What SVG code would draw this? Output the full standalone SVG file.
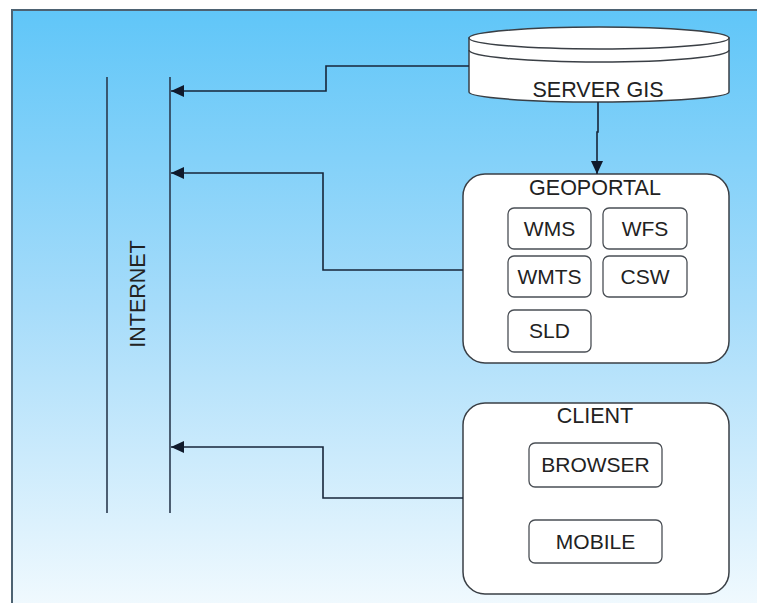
<svg xmlns="http://www.w3.org/2000/svg" width="757" height="603" viewBox="0 0 757 603">
  <defs>
    <linearGradient id="bg" x1="0" y1="0" x2="0" y2="1">
      <stop offset="0" stop-color="#60c6f8"/>
      <stop offset="0.5" stop-color="#a6dcfa"/>
      <stop offset="1" stop-color="#f0f9fe"/>
    </linearGradient>
    <marker id="arrow" markerWidth="14" markerHeight="12" refX="13" refY="6" orient="auto" markerUnits="userSpaceOnUse">
      <path d="M0,0 L13,6 L0,12 Z" fill="#101a2c"/>
    </marker>
    <style>
      .box { fill: #ffffff; stroke: #3a3f45; stroke-width: 1.5; }
      .inner { fill: #ffffff; stroke: #4a4f55; stroke-width: 1.3; }
      .lbl { font-family: "Liberation Sans", Arial, sans-serif; font-size: 21px; fill: #222222; text-anchor: middle; }
      .title { font-size: 21.5px; }
      .wire { fill: none; stroke: #17263a; stroke-width: 1.6; }
      .bus { stroke: #2a3a4e; stroke-width: 1.6; }
    </style>
  </defs>

  <!-- background panel -->
  <rect x="0" y="0" width="757" height="603" fill="#ffffff"/>
  <rect x="12" y="10" width="746" height="594" fill="url(#bg)"/>
  <path d="M12,604 V10 H757" fill="none" stroke="#4d6272" stroke-width="2"/>

  <!-- internet bus -->
  <g id="internet">
    <line class="bus" x1="107" y1="77" x2="107" y2="513"/>
    <line class="bus" x1="170" y1="77" x2="170" y2="513"/>
    <text class="lbl title" transform="translate(145,294) rotate(-90)">INTERNET</text>
  </g>

  <!-- GIS server (disk) -->
  <g id="server-gis">
    <path class="box" d="M469,38 V92 A130,10 0 0 0 729,92 V38 Z"/>
    <ellipse class="box" cx="599" cy="38" rx="130" ry="11"/>
    <path d="M469,50 A130,12 0 0 0 729,50" fill="none" stroke="#3a3f45" stroke-width="1.5"/>
    <text class="lbl title" x="598" y="97">SERVER GIS</text>
  </g>

  <!-- geoportal with services -->
  <g id="geoportal">
    <rect class="box" x="463" y="174" width="266" height="189" rx="22"/>
    <text class="lbl title" x="595" y="195">GEOPORTAL</text>
    <g id="wms"><rect class="inner" x="508" y="208" width="83" height="41" rx="6"/><text class="lbl" x="549.5" y="236">WMS</text></g>
    <g id="wfs"><rect class="inner" x="603" y="208" width="84" height="41" rx="6"/><text class="lbl" x="645" y="236">WFS</text></g>
    <g id="wmts"><rect class="inner" x="508" y="256" width="83" height="41" rx="6"/><text class="lbl" x="549.5" y="284">WMTS</text></g>
    <g id="csw"><rect class="inner" x="603" y="256" width="84" height="41" rx="6"/><text class="lbl" x="645" y="284">CSW</text></g>
    <g id="sld"><rect class="inner" x="508" y="310" width="83" height="42" rx="6"/><text class="lbl" x="549.5" y="338">SLD</text></g>
  </g>

  <!-- client -->
  <g id="client">
    <rect class="box" x="463" y="403" width="266" height="191" rx="22"/>
    <text class="lbl title" x="595" y="423">CLIENT</text>
    <g id="browser"><rect class="inner" x="529" y="443" width="133" height="44" rx="6"/><text class="lbl" x="595.5" y="472">BROWSER</text></g>
    <g id="mobile"><rect class="inner" x="529" y="520" width="133" height="43" rx="6"/><text class="lbl" x="595.5" y="549">MOBILE</text></g>
  </g>

  <!-- connectors -->
  <g id="connectors">
    <path class="wire" d="M469,66 H326 V91 H171" marker-end="url(#arrow)"/>
    <path class="wire" d="M463,270 H323 V173 H171" marker-end="url(#arrow)"/>
    <path class="wire" d="M463,498 H323 V447 H171" marker-end="url(#arrow)"/>
    <path class="wire" d="M598,102 V132 H597 V174" marker-end="url(#arrow)"/>
  </g>
</svg>
